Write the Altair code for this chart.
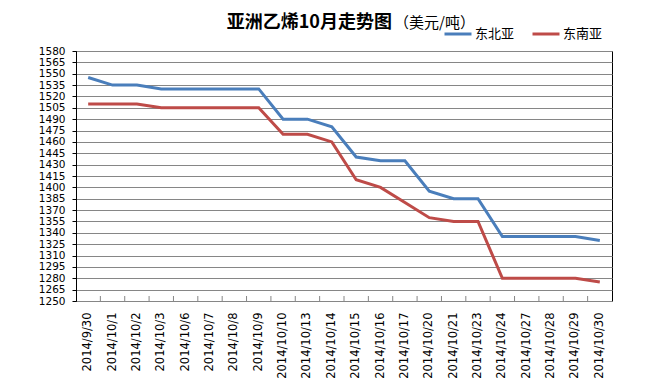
import altair as alt
import pandas as pd

dates = ["2014/9/30", "2014/10/1", "2014/10/2", "2014/10/3", "2014/10/6", "2014/10/7",
         "2014/10/8", "2014/10/9", "2014/10/10", "2014/10/13", "2014/10/14", "2014/10/15",
         "2014/10/16", "2014/10/17", "2014/10/20", "2014/10/21", "2014/10/23", "2014/10/24",
         "2014/10/27", "2014/10/28", "2014/10/29", "2014/10/30"]
northeast = [1545, 1535, 1535, 1530, 1530, 1530, 1530, 1530, 1490, 1490, 1480, 1440,
             1435, 1435, 1395, 1385, 1385, 1335, 1335, 1335, 1335, 1330]
southeast = [1510, 1510, 1510, 1505, 1505, 1505, 1505, 1505, 1470, 1470, 1460, 1410,
             1400, 1380, 1360, 1355, 1355, 1280, 1280, 1280, 1280, 1275]
series_names = ["东北亚", "东南亚"]
series_colors = ["#4A7EBB", "#BE4B48"]
y_ticks = [1250, 1265, 1280, 1295, 1310, 1325, 1340, 1355, 1370, 1385, 1400, 1415, 1430,
           1445, 1460, 1475, 1490, 1505, 1520, 1535, 1550, 1565, 1580]
title_main = "亚洲乙烯10月走势图"
title_unit = "（美元/吨）"

n = len(dates)
df = pd.DataFrame({
    "date": dates * 2,
    "value": northeast + southeast,
    "series": [series_names[0]] * n + [series_names[1]] * n,
    "order": list(range(n)) * 2,
})
tick_df = pd.DataFrame({"date": dates[1:]})

W, H = 536, 250
xscale = alt.Scale(type="band", paddingInner=0, paddingOuter=0, domain=dates)

x_enc = alt.X("date:N", sort=dates, scale=xscale,
              axis=alt.Axis(title=None, labelAngle=270, labelAlign="right",
                            labelBaseline="middle", labelFont="DejaVu Sans",
                            labelFontSize=11.5, labelColor="#000", ticks=False,
                            domainColor="#868686", labelPadding=11,
                            labelOverlap=False))
y_enc = alt.Y("value:Q",
              scale=alt.Scale(domain=[1250, 1580], nice=False, zero=False),
              axis=alt.Axis(title=None, values=y_ticks, format="d",
                            gridColor="#868686",
                            domainColor="#000", tickColor="#000", tickSize=4,
                            labelPadding=7, labelFont="DejaVu Sans",
                            labelFontSize=10.5, labelColor="#000"))

lines = alt.Chart(df).mark_line(strokeWidth=3).encode(
    x=x_enc,
    y=y_enc,
    order=alt.Order("order:Q"),
    color=alt.Color("series:N",
                    scale=alt.Scale(domain=series_names, range=series_colors),
                    legend=alt.Legend(orient="none", legendX=367, legendY=-32,
                                      direction="horizontal", title=None,
                                      symbolType="stroke", symbolSize=729,
                                      symbolStrokeWidth=3,
                                      labelFont="Noto Sans CJK SC",
                                      labelFontSize=13, labelColor="#000",
                                      labelOffset=2, columnPadding=11)),
)

ticks = alt.Chart(tick_df).mark_rule(color="#868686").encode(
    x=alt.X("date:N", sort=dates, scale=xscale, bandPosition=0),
    y=alt.value(H - 5),
    y2=alt.value(H),
)

t1 = alt.Chart(pd.DataFrame({"t": [title_main]})).mark_text(
    align="right", baseline="middle", font="Noto Sans CJK SC",
    fontSize=18, fontWeight="bold", color="#000"
).encode(x=alt.value(316), y=alt.value(-28), text="t:N")

t2 = alt.Chart(pd.DataFrame({"t": [title_unit]})).mark_text(
    align="left", baseline="middle", font="Noto Sans CJK SC",
    fontSize=15, color="#000"
).encode(x=alt.value(318), y=alt.value(-28), text="t:N")

chart = alt.layer(ticks, lines, t1, t2).properties(
    width=W, height=H,
    autosize=alt.AutoSizeParams(type="none"),
    padding={"left": 68, "top": 43, "right": 30, "bottom": 80},
    background="white",
).configure_view(stroke="black", strokeWidth=1)

chart.save("out.html", embed_options={"renderer": "svg", "actions": False})
